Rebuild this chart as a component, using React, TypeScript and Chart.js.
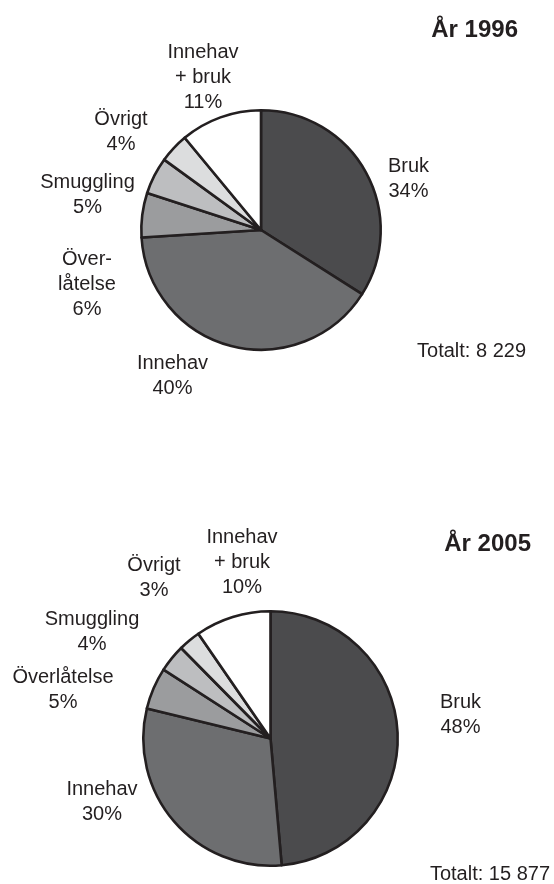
import React, { useEffect, useRef } from "react";
import { Chart, registerables } from "chart.js";

Chart.register(...registerables);

// ---- data ----
const categories = ["Bruk", "Innehav", "Överlåtelse", "Smuggling", "Övrigt", "Innehav + bruk"];
const values1996 = [34, 40, 6, 5, 4, 11];
const values2005 = [48.6, 30.2, 5.3, 3.5, 2.8, 9.6];
const labelLines1996 = [["Bruk", "34%"], ["Innehav", "40%"], ["Över-", "låtelse", "6%"], ["Smuggling", "5%"], ["Övrigt", "4%"], ["Innehav", "+ bruk", "11%"]];
const labelLines2005 = [["Bruk", "48%"], ["Innehav", "30%"], ["Överlåtelse", "5%"], ["Smuggling", "4%"], ["Övrigt", "3%"], ["Innehav", "+ bruk", "10%"]];
const title1996 = "År 1996";
const title2005 = "År 2005";
const total1996 = "Totalt: 8 229";
const total2005 = "Totalt: 15 877";

// ---- styles / layout ----
const sliceColors = ["#4b4b4d", "#6d6e70", "#9b9c9e", "#bdbec0", "#dcddde", "#ffffff"];
const borderColor = "#231f20";
const textColor = "#231f20";
const FONT = '"Liberation Sans", Arial, Helvetica, sans-serif';
const W = 554;
const H = 442;

type Layout = {
  padding: { left: number; right: number; top: number; bottom: number };
  labelOffsets: number[][]; // offsets from pie centre: [dx, baseline dy]
  titleRight: number;
  titleBase: number;
  totalRight: number;
  totalBase: number;
};

const layout1996: Layout = {
  padding: { left: 140, right: 172, top: 109, bottom: 91 },
  labelOffsets: [[147.5, -58], [-88.5, 139], [-174, 35], [-173.5, -42], [-140, -105], [-58, -172]],
  titleRight: 518,
  titleBase: 37,
  totalRight: 526,
  totalBase: 357,
};

const layout2005: Layout = {
  padding: { left: 142, right: 155, top: 168, bottom: 17 },
  labelOffsets: [[190, -30.5], [-168.5, 56.5], [-207.5, -55.5], [-178.5, -113.5], [-116.5, -167.5], [-28.5, -195.5]],
  titleRight: 531,
  titleBase: 109,
  totalRight: 550,
  totalBase: 438,
};

function makeTextPlugin(lines: string[][], lay: Layout, title: string, total: string) {
  return {
    id: "pieText",
    afterDraw(chart: any) {
      const ctx = chart.ctx;
      const meta = chart.getDatasetMeta(0);
      const arc = meta.data[0];
      const cx = arc.x;
      const cy = arc.y;
      ctx.save();
      ctx.fillStyle = textColor;
      ctx.textBaseline = "alphabetic";
      ctx.font = `20px ${FONT}`;
      ctx.textAlign = "center";
      lines.forEach((ls, i) => {
        const [dx, dy] = lay.labelOffsets[i];
        ls.forEach((t, j) => {
          ctx.fillText(t, cx + dx, cy + dy + j * 25);
        });
      });
      ctx.textAlign = "right";
      ctx.fillText(total, lay.totalRight, lay.totalBase);
      ctx.font = `bold 24px ${FONT}`;
      ctx.fillText(title, lay.titleRight, lay.titleBase);
      ctx.restore();
    },
  };
}

function PieChart({ values, lines, lay, title, total }: { values: number[]; lines: string[][]; lay: Layout; title: string; total: string }) {
  const ref = useRef<HTMLCanvasElement>(null);
  useEffect(() => {
    if (!ref.current) return;
    const chart = new Chart(ref.current, {
      type: "pie",
      data: {
        labels: categories,
        datasets: [
          {
            data: values,
            backgroundColor: sliceColors,
            borderColor: borderColor,
            borderWidth: 2.6,
            borderJoinStyle: "round",
          } as any,
        ],
      },
      options: {
        animation: false,
        responsive: false,
        maintainAspectRatio: false,
        devicePixelRatio: 1,
        layout: { padding: lay.padding },
        plugins: {
          legend: { display: false },
          tooltip: { enabled: false },
          title: { display: false },
        },
      },
      plugins: [makeTextPlugin(lines, lay, title, total)],
    });
    return () => chart.destroy();
  }, []);
  return <canvas ref={ref} width={W} height={H} style={{ display: "block", width: W, height: H }} />;
}

export default function App() {
  return (
    <div style={{ position: "absolute", left: 0, top: 0, width: W, height: 884, background: "#ffffff" }}>
      <PieChart values={values1996} lines={labelLines1996} lay={layout1996} title={title1996} total={total1996} />
      <PieChart values={values2005} lines={labelLines2005} lay={layout2005} title={title2005} total={total2005} />
    </div>
  );
}
